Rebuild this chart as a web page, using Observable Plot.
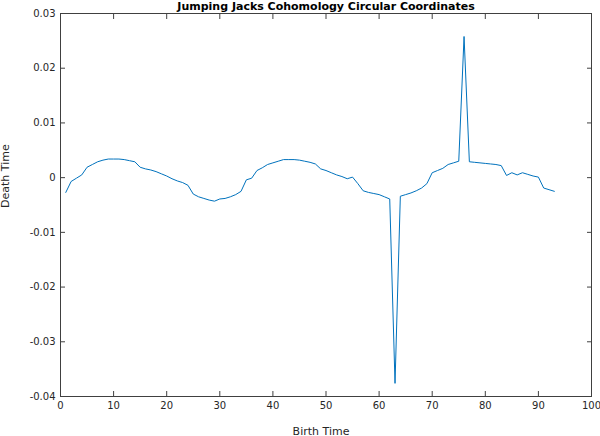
<!DOCTYPE html>
<html>
<head>
<meta charset="utf-8">
<script src="https://cdn.jsdelivr.net/npm/d3@7"></script>
<script src="https://cdn.jsdelivr.net/npm/@observablehq/plot@0.6"></script>
<style>
  body { margin: 0; background: #fff; }
  svg { font-family: "DejaVu Sans", sans-serif; }
</style>
</head>
<body>
<div id="chart"></div>
<script>
const title = "Jumping Jacks Cohomology Circular Coordinates";
const xLabel = "Birth Time";
const yLabel = "Death Time";
const xTicks = [0, 10, 20, 30, 40, 50, 60, 70, 80, 90, 100];
const yTicks = [-0.04, -0.03, -0.02, -0.01, 0, 0.01, 0.02, 0.03];
const birth = d3.range(1, 94);
const death = [
  -0.0027, -0.0007, -0.0001, 0.0005, 0.0019, 0.0024, 0.0029, 0.0032, 0.0034, 0.0034,
  0.0034, 0.0033, 0.0031, 0.0029, 0.0019, 0.0016, 0.0014, 0.0011, 0.0007, 0.0003,
  -0.0002, -0.0006, -0.0009, -0.0014, -0.0030, -0.0035, -0.0038, -0.0041, -0.0043, -0.0039,
  -0.0038, -0.0035, -0.0031, -0.0025, -0.0004, -0.0001, 0.0013, 0.0018, 0.0024, 0.0027,
  0.0030, 0.0033, 0.0033, 0.0033, 0.0032, 0.0030, 0.0028, 0.0025, 0.0016, 0.0013,
  0.0009, 0.0005, 0.0002, -0.0002, 0.0001, -0.0011, -0.0024, -0.0027, -0.0029, -0.0031,
  -0.0035, -0.0039, -0.0376, -0.0034, -0.0031, -0.0028, -0.0024, -0.0019, -0.0011, 0.0009,
  0.0013, 0.0017, 0.0024, 0.0027, 0.0030, 0.0258, 0.0029, 0.0028, 0.0027, 0.0026,
  0.0025, 0.0024, 0.0022, 0.0004, 0.0009, 0.0005, 0.0009, 0.0006, 0.0003, 0.0001,
  -0.0019, -0.0022, -0.0025
];
const data = birth.map((b, i) => ({birth: b, death: death[i]}));
const axisColor = "#404040";
const fmtY = d => d === 0 ? "0" : d.toFixed(2);

const chart = Plot.plot({
  width: 600,
  height: 436,
  marginLeft: 60,
  marginRight: 9,
  marginTop: 13,
  marginBottom: 40,
  style: {fontFamily: "DejaVu Sans, sans-serif", fontSize: "10px", color: "#262626", background: "#fff"},
  x: {domain: [0, 100], label: null},
  y: {domain: [-0.04, 0.03], label: null},
  marks: [
    Plot.lineY(data, {x: "birth", y: "death", stroke: "#0072BD", strokeWidth: 1}),
    Plot.frame({stroke: axisColor}),
    Plot.axisX({anchor: "bottom", ticks: xTicks, tickSize: -5, tickPadding: 10, stroke: axisColor, fill: "#262626", label: null}),
    Plot.axisX({anchor: "top", ticks: xTicks, tickSize: -5, tickFormat: () => "", stroke: axisColor, label: null}),
    Plot.axisY({anchor: "left", ticks: yTicks, tickSize: -5, tickPadding: 10, tickFormat: fmtY, stroke: axisColor, fill: "#262626", label: null}),
    Plot.axisY({anchor: "right", ticks: yTicks, tickSize: -5, tickFormat: () => "", stroke: axisColor, label: null}),
    Plot.text([title], {frameAnchor: "top", lineAnchor: "bottom", dy: -4, fontWeight: "bold", fontSize: 11, fill: "#000"}),
    Plot.text([xLabel], {frameAnchor: "bottom", dy: 38, dx: -5, fontSize: 11, fill: "#262626"}),
    Plot.text([yLabel], {frameAnchor: "left", dx: -55, dy: 3, rotate: -90, fontSize: 11, fill: "#262626"})
  ]
});
document.getElementById("chart").appendChild(chart);
</script>
</body>
</html>
